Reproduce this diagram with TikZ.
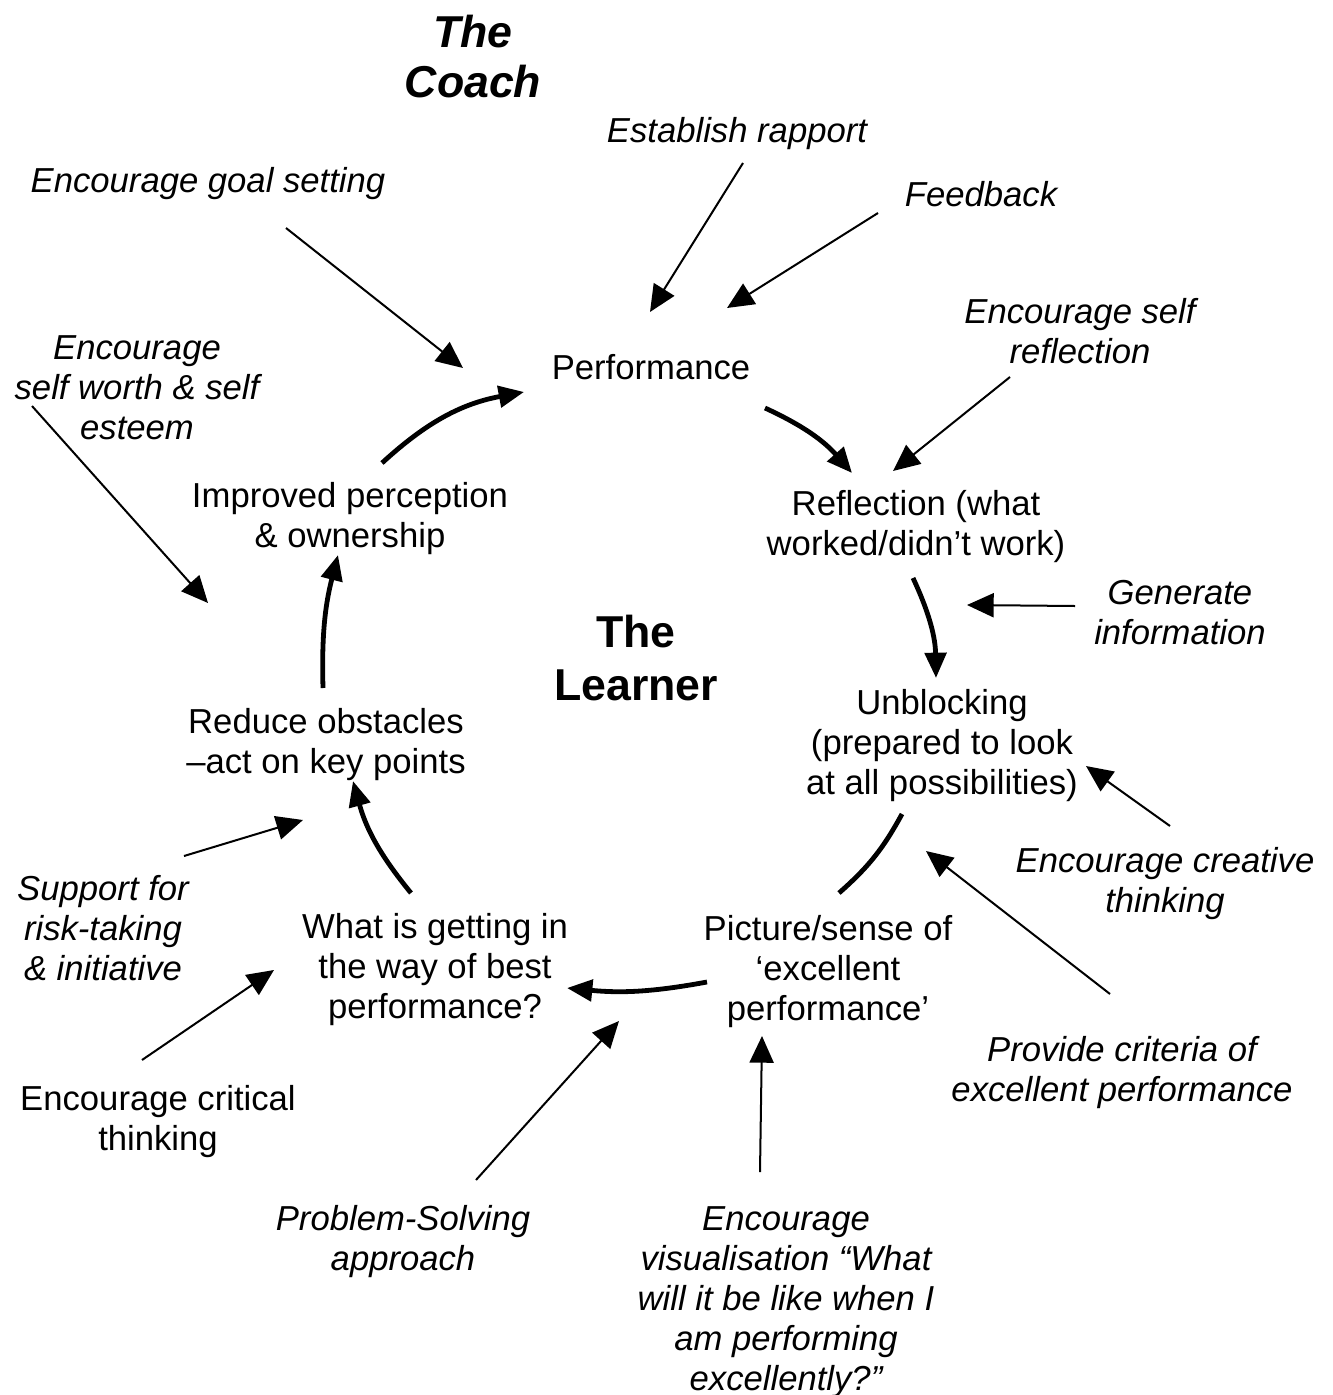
\documentclass[tikz,border=0pt]{standalone}
\usepackage{fontspec}
\setmainfont{Liberation Sans}
\usetikzlibrary{arrows.meta}
\begin{document}
\begin{tikzpicture}[x=0.75pt,y=-0.75pt,
  txt/.style={inner sep=0pt,align=center,font=\fontsize{26}{30}\selectfont},
  itxt/.style={txt,font=\fontsize{26}{30}\selectfont\itshape},
  title/.style={inner sep=0pt,align=center,font=\fontsize{33.5}{38}\selectfont\bfseries},
  hint/.style={line width=1.5pt,-{Triangle[length=20pt,width=18pt]}},
  cycle/.style={line width=3.6pt,-{Triangle[length=19pt,width=16pt]}},
  cyclenohead/.style={line width=3.6pt}]
\useasboundingbox (0,0) rectangle (1333,1395);

% titles
\node[title,font=\fontsize{33.5}{37.5}\selectfont\bfseries\itshape] (coach) at (473,57) {The\\Coach};
\node[title,font=\fontsize{33.5}{40}\selectfont\bfseries] (learner) at (636,658) {The\\Learner};

% stages of the cycle
\node[txt] (perf) at (651,367) {Performance};
\node[txt] (refl) at (916,527) {Reflection (what\\worked/didn’t work)};
\node[txt] (unbl) at (942,746) {Unblocking\\(prepared to look\\at all possibilities)};
\node[txt] (pict) at (828,972) {Picture/sense of\\‘excellent\\performance’};
\node[txt] (what) at (435,970) {What is getting in\\the way of best\\performance?};
\node[txt] (redu) at (326,745) {Reduce obstacles\\–act on key points};
\node[txt] (impr) at (350,519) {Improved perception\\\& ownership};

% coaching interventions
\node[itxt] (rapport) at (737,134) {Establish rapport};
\node[itxt] (goal) at (208,184) {Encourage goal setting};
\node[itxt] (feedback) at (981,194) {Feedback};
\node[itxt] (selfrefl) at (1080,331) {Encourage self\\reflection};
\node[itxt] (worth) at (137,388) {Encourage\\self worth \& self\\esteem};
\node[itxt] (geninfo) at (1180,613) {Generate\\information};
\node[itxt] (creative) at (1165,884) {Encourage creative\\thinking};
\node[itxt] (risk) at (103,928) {Support for\\risk-taking\\\& initiative};
\node[itxt] (criteria) at (1122,1073) {Provide criteria of\\excellent performance};
\node[txt] (critical) at (158,1122) {Encourage critical\\thinking};
\node[itxt] (problem) at (403,1242) {Problem-Solving\\approach};
\node[itxt] (visual) at (786,1302) {Encourage\\visualisation “What\\will it be like when I\\am performing\\excellently?”};

% arrow end points
\coordinate (rapport-t) at (743,163);   \coordinate (rapport-h) at (650,312);
\coordinate (feedback-t) at (878,213);  \coordinate (feedback-h) at (727,308);
\coordinate (goal-t) at (286,228);      \coordinate (goal-h) at (463,368);
\coordinate (selfrefl-t) at (1010,377); \coordinate (selfrefl-h) at (893,471);
\coordinate (worth-t) at (32,406);      \coordinate (worth-h) at (208,603);
\coordinate (geninfo-t) at (1075,606);  \coordinate (geninfo-h) at (967,605);
\coordinate (creative-t) at (1170,826); \coordinate (creative-h) at (1086,766);
\coordinate (risk-t) at (184,856);      \coordinate (risk-h) at (303,820);
\coordinate (criteria-t) at (1110,994); \coordinate (criteria-h) at (926,851);
\coordinate (critical-t) at (142,1060); \coordinate (critical-h) at (274,970);
\coordinate (problem-t) at (476,1180);  \coordinate (problem-h) at (619,1021);
\coordinate (visual-t) at (760,1172);   \coordinate (visual-h) at (762,1036);

\coordinate (c1s) at (382,463); \coordinate (c1e) at (524,392);
\coordinate (c2s) at (765,408); \coordinate (c2e) at (852,473);
\coordinate (c3s) at (913,578); \coordinate (c3e) at (936,678);
\coordinate (c4s) at (902,814); \coordinate (c4e) at (839,893);
\coordinate (c5s) at (707,982); \coordinate (c5e) at (567,988);
\coordinate (c6s) at (411,893); \coordinate (c6e) at (353,781);
\coordinate (c7s) at (323,688); \coordinate (c7e) at (338,555);

% intervention arrows
\foreach \n in {rapport,feedback,goal,selfrefl,worth,geninfo,creative,risk,criteria,critical,problem,visual}
  \draw[hint] (\n-t) -- (\n-h);

% the learning cycle
\draw[cycle] (c1s) to[bend left=16] (c1e);
\draw[cycle] (c2s) to[bend left=12] (c2e);
\draw[cycle] (c3s) to[bend left=12] (c3e);
\draw[cyclenohead] (c4s) to[bend left=10] (c4e);
\draw[cycle] (c5s) to[bend left=8] (c5e);
\draw[cycle] (c6s) to[bend left=12] (c6e);
\draw[cycle] (c7s) to[bend left=8] (c7e);
\end{tikzpicture}
\end{document}
